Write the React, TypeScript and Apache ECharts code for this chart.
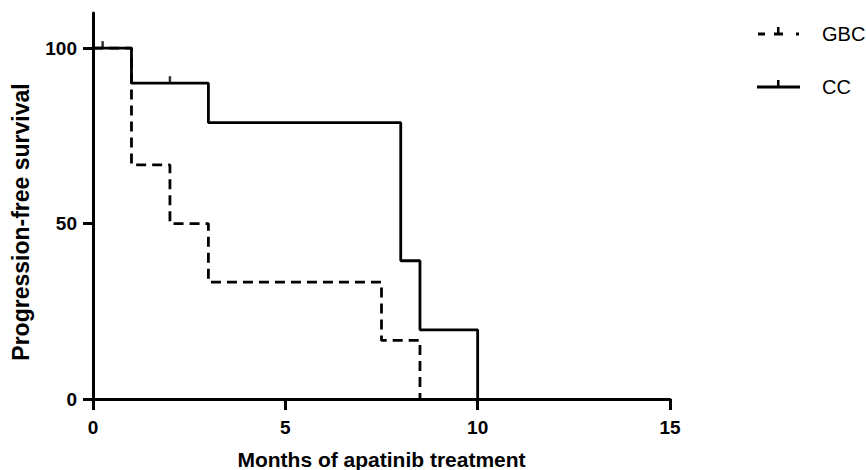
import React, { useEffect, useRef } from "react";
import * as echarts from "echarts";

const gbcTimes = [0, 1, 2, 3, 7.5, 8.5];
const gbcSurvival = [100, 66.7, 50, 33.3, 16.7, 0];
const ccTimes = [0, 1, 3, 8, 8.5, 10];
const ccSurvival = [100, 90, 78.75, 39.4, 19.7, 0];
const ccCensorTimes = [0.25, 2];
const ccCensorSurvival = [100, 90];
const xTicks = [0, 5, 10, 15];
const yTicks = [0, 50, 100];
const seriesNames = ["GBC", "CC"];

const FONT = "Liberation Sans, Arial, Helvetica, sans-serif";

export default function App() {
  const ref = useRef<HTMLDivElement>(null);
  useEffect(() => {
    if (!ref.current) return;
    const chart = echarts.init(ref.current, null, { renderer: "svg" });
    const zip = (xs: number[], ys: number[]) => xs.map((x, i) => [x, ys[i]]);
    chart.setOption({
      animation: false,
      backgroundColor: "#ffffff",
      grid: { left: 93, right: 196, top: 13, bottom: 71, containLabel: false, outerBoundsMode: "none" },
      xAxis: {
        type: "value",
        min: 0,
        max: 15,
        interval: 5,
        name: "Months of apatinib treatment",
        nameLocation: "middle",
        nameGap: 50,
        nameTextStyle: { fontFamily: FONT, fontWeight: "bold", fontSize: 21, color: "#000" },
        axisLine: { show: true, onZero: false, lineStyle: { color: "#000", width: 3 } },
        axisTick: { show: true, length: 11, lineStyle: { color: "#000", width: 3 }, customValues: xTicks },
        axisLabel: {
          fontFamily: FONT,
          fontWeight: "bold",
          fontSize: 19,
          color: "#000",
          margin: 19,
          customValues: xTicks,
        },
        splitLine: { show: false },
      },
      yAxis: {
        type: "value",
        min: 0,
        max: 110,
        name: "Progression-free survival",
        nameLocation: "middle",
        nameGap: 61,
        nameRotate: 90,
        nameTextStyle: {
          fontFamily: FONT,
          fontWeight: "bold",
          fontSize: 23,
          color: "#000",
          padding: [0, 32, 0, 0],
        },
        axisLine: { show: true, onZero: false, lineStyle: { color: "#000", width: 3 } },
        axisTick: { show: true, length: 10, lineStyle: { color: "#000", width: 3 }, customValues: yTicks },
        axisLabel: {
          fontFamily: FONT,
          fontWeight: "bold",
          fontSize: 19,
          color: "#000",
          margin: 16,
          customValues: yTicks,
        },
        splitLine: { show: false },
      },
      series: [
        {
          name: seriesNames[0],
          type: "line",
          step: "end",
          data: zip(gbcTimes, gbcSurvival),
          showSymbol: false,
          symbol: "none",
          lineStyle: { color: "#000", width: 2.8, type: [10, 6] },
          z: 3,
        },
        {
          name: seriesNames[1],
          type: "line",
          step: "end",
          data: zip(ccTimes, ccSurvival),
          showSymbol: false,
          symbol: "none",
          lineStyle: { color: "#000", width: 2.8, type: "solid" },
          z: 4,
        },
        {
          name: "CC censored",
          type: "scatter",
          data: zip(ccCensorTimes, ccCensorSurvival),
          symbol: "rect",
          symbolSize: [2.5, 7],
          symbolOffset: [0, -3.5],
          itemStyle: { color: "#000" },
          z: 5,
        },
      ],
      graphic: [
        { type: "line", shape: { x1: 758, y1: 34, x2: 765, y2: 34 }, style: { stroke: "#000", lineWidth: 3 } },
        { type: "line", shape: { x1: 774, y1: 34, x2: 783, y2: 34 }, style: { stroke: "#000", lineWidth: 3 } },
        { type: "rect", shape: { x: 777, y: 27, width: 2.5, height: 7 }, style: { fill: "#000" } },
        { type: "line", shape: { x1: 796, y1: 34, x2: 799, y2: 34 }, style: { stroke: "#000", lineWidth: 3 } },
        {
          type: "text",
          x: 822,
          y: 34,
          style: { text: seriesNames[0], fontFamily: FONT, fontSize: 20, fill: "#000", textVerticalAlign: "middle" },
        },
        { type: "line", shape: { x1: 757, y1: 87, x2: 800, y2: 87 }, style: { stroke: "#000", lineWidth: 3 } },
        { type: "rect", shape: { x: 777, y: 80, width: 2.5, height: 7 }, style: { fill: "#000" } },
        {
          type: "text",
          x: 822,
          y: 87,
          style: { text: seriesNames[1], fontFamily: FONT, fontSize: 20, fill: "#000", textVerticalAlign: "middle" },
        },
      ],
    });
    return () => chart.dispose();
  }, []);
  return <div ref={ref} style={{ width: 866, height: 470, position: "absolute", left: 0, top: 0 }} />;
}
